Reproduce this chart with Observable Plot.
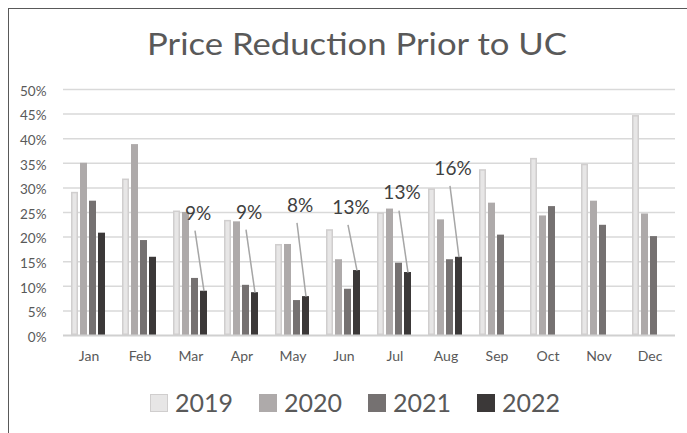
<!DOCTYPE html>
<html>
<head>
<meta charset="utf-8">
<script src="https://cdn.jsdelivr.net/npm/d3@7"></script>
<script src="https://cdn.jsdelivr.net/npm/@observablehq/plot@0.6"></script>
<style>
  html, body { margin: 0; padding: 0; background: #fff; }
  body { width: 687px; height: 433px; overflow: hidden; position: relative; font-family: Lato, "Open Sans", sans-serif; color: #595959; }
  #frame { position: absolute; left: 8px; top: 8px; width: 700px; height: 440px; border-left: 1.5px solid #595959; border-top: 1.5px solid #595959; }
  #title { position: absolute; top: 25px; left: 147px; font-size: 30px; line-height: 1.2; white-space: nowrap; transform-origin: 0 0; color: #595959; }
  #chart { position: absolute; left: 0; top: 70px; }
  #legend { position: absolute; left: 150px; top: 387px; display: flex; align-items: flex-start; font-size: 25px; line-height: 1.2; white-space: nowrap; }
  .item { display: flex; align-items: flex-start; margin-right: 26px; }
  .sw { width: 18px; height: 18px; margin-top: 7px; margin-right: 7px; box-sizing: border-box; }
</style>
</head>
<body>
<div id="frame"></div>
<div id="title">Price Reduction Prior to UC</div>
<div id="chart"></div>
<div id="legend"></div>
<script>
const months = ["Jan","Feb","Mar","Apr","May","Jun","Jul","Aug","Sep","Oct","Nov","Dec"];
const years = ["2019","2020","2021","2022"];
const colors = ["#e7e6e6","#aeaaaa","#757171","#3b3838"];
const v2019 = [29.1,31.8,25.3,23.4,18.5,21.5,24.9,29.8,33.7,36.0,34.8,44.7];
const v2020 = [35.0,38.8,25.0,23.1,18.5,15.4,25.7,23.5,26.9,24.3,27.3,24.7];
const v2021 = [27.3,19.3,11.6,10.2,7.1,9.4,14.7,15.4,20.4,26.2,22.4,20.1];
const v2022 = [20.8,15.9,9.0,8.7,7.9,13.2,12.8,15.9,null,null,null,null];
const labelMonths = ["Mar","Apr","May","Jun","Jul","Aug"];
const labelLevel = [24.8,25.0,26.4,26.0,28.9,33.9];
const yTicks = [0,5,10,15,20,25,30,35,40,45,50];

const series = {"2019": v2019, "2020": v2020, "2021": v2021, "2022": v2022};
const data = years.flatMap(yr => months.map((m, i) => ({month: m, year: yr, value: series[yr][i]})))
  .filter(d => d.value != null);
const labels = labelMonths.map((m, i) => ({
  month: m,
  value: v2022[months.indexOf(m)],
  level: labelLevel[i]
}));

const chart = Plot.plot({
  width: 687,
  height: 305,
  marginTop: 19,
  marginBottom: 40,
  marginLeft: 60,
  marginRight: 9,
  style: {fontFamily: "Lato, 'Open Sans', sans-serif", fontSize: "13.5px", color: "#595959", background: "transparent", overflow: "visible"},
  fx: {domain: months, padding: 0, label: null},
  x: {domain: years, paddingInner: 0.2, paddingOuter: 0.87, axis: null},
  y: {domain: [0, 50], axis: null},
  color: {domain: years, range: colors},
  marks: [
    Plot.gridY(yTicks.filter(t => t > 0), {stroke: "#d9d9d9", strokeOpacity: 1, strokeWidth: 1.5}),
    Plot.axisY(yTicks, {tickSize: 0, tickPadding: 17, tickFormat: d => d + "%", label: null, dy: 2, fontSize: 13.5}),
    Plot.axisFx({anchor: "bottom", tickSize: 0, tickPadding: 16, label: null, fontSize: 14}),
    Plot.barY(data.filter(d => d.year !== "2019"), {fx: "month", x: "year", y: "value", fill: "year"}),
    Plot.barY(data.filter(d => d.year === "2019"), {fx: "month", x: "year", y: "value", fill: colors[0], stroke: "#d0cece", strokeWidth: 1.5, inset: 0.75}),
    Plot.ruleY([0], {stroke: "#d0d0d0", strokeWidth: 2}),
    Plot.link(labels, {fx: "month", x1: () => "2021", y1: d => d.level - 3.5, x2: () => "2022", y2: "value", stroke: "#a6a6a6", strokeWidth: 1.5}),
    Plot.text(labels, {fx: "month", x: () => "2021", y: "level", text: d => Math.round(d.value) + "%", dx: 3, fontSize: 19, fill: "#404040"})
  ]
});
document.getElementById("chart").appendChild(chart);

const legend = document.getElementById("legend");
years.forEach((yr, i) => {
  const item = document.createElement("div");
  item.className = "item";
  const sw = document.createElement("div");
  sw.className = "sw";
  sw.style.background = colors[i];
  if (i === 0) sw.style.border = "1.5px solid #d0cece";
  const t = document.createElement("span");
  t.textContent = yr;
  item.appendChild(sw);
  item.appendChild(t);
  legend.appendChild(item);
});

const title = document.getElementById("title");
const w = title.getBoundingClientRect().width;
title.style.transform = `scaleX(${420 / w})`;
</script>
</body>
</html>
